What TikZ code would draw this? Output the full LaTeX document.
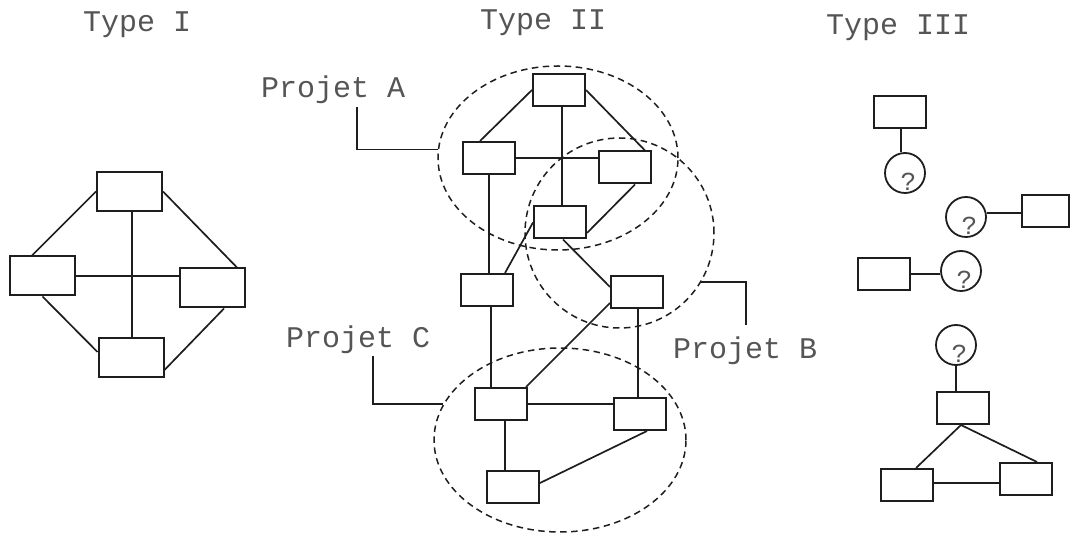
\documentclass[tikz,border=0pt]{standalone}
\usepackage{fontspec}
\setmainfont{Liberation Mono}
\usetikzlibrary{shapes.geometric}
\definecolor{ink}{HTML}{1E1E1E}
\definecolor{txt}{HTML}{555555}
\begin{document}
\begin{tikzpicture}[x=1pt,y=-1pt,
  box/.style={draw=ink, line width=2pt, minimum width=52pt, minimum height=32pt, inner sep=0pt, fill=white},
  bigbox/.style={box, minimum width=65pt, minimum height=39pt},
  link/.style={draw=ink, line width=1.7pt},
  proj/.style={draw=ink, line width=1.5pt, dash pattern=on 6.5pt off 4.5pt, ellipse, inner sep=0pt},
  qc/.style={draw=ink, circle, line width=1.8pt, minimum size=40pt, inner sep=0pt},
  lbl/.style={anchor=base west, inner sep=0pt, text=txt, font=\fontsize{30}{36}\selectfont},
  qm/.style={anchor=base, inner sep=0pt, text=txt, font=\fontsize{26}{30}\selectfont}]
\useasboundingbox (0,0) rectangle (1072,534);

% titles
\node[lbl] (ti1) at (83,32) {Type I};
\node[lbl] (ti2) at (480,30) {Type II};
\node[lbl] (ti3) at (826,35) {Type III};

% ---------- Type I ----------
\node[bigbox] (p1) at (129.5,191.5) {};
\node[bigbox] (p2) at (42.5,276) {};
\node[bigbox] (p3) at (212,288) {};
\node[bigbox] (p4) at (131,357.5) {};
\draw[link] ([xshift=2.5pt]p1.south) -- ([xshift=2.5pt]p1.south |- p4.north);
\draw[link] (p2.east) -- (p2.east -| p3.west);
\draw[link] (p1.west) -- ([xshift=-10.5pt]p2.north);
\draw[link] (p1.east) -- ([xshift=25pt]p3.north);
\draw[link] (p2.south) -- ([yshift=5.5pt]p4.west);
\draw[link] ([xshift=12pt]p3.south) -- ([yshift=-12.5pt]p4.east);

% ---------- Type II ----------
\node[proj, minimum width=240pt, minimum height=184pt] (EA) at (558,158) {};
\node[proj, minimum width=189pt, minimum height=190pt] (EB) at (619.5,233) {};
\node[proj, minimum width=252pt, minimum height=184pt] (EC) at (560,440) {};

\node[box] (a1) at (559,90) {};
\node[box] (a2) at (489,158) {};
\node[box] (a3) at (625,167.5) {};
\node[box] (a4) at (560,222.5) {};
\node[box] (m1) at (487,290) {};
\node[box] (b2) at (637,292) {};
\node[box] (c1) at (501,404) {};
\node[box] (c2) at (639.5,414) {};
\node[box] (c3) at (513,487) {};

\draw[link] (a1.west) -- ([xshift=-9pt]a2.north);
\draw[link] ([xshift=3pt]a1.south) -- ([xshift=3pt]a1.south |- a4.north);
\draw[link] (a1.east) -- ([xshift=20pt]a3.north);
\draw[link] (a2.east) -- (a2.east -| a3.west);
\draw[link] ([xshift=10pt]a3.south) -- ([yshift=-10.5pt]a4.east);
\draw[link] (a2.south) -- (a2.south |- m1.north);
\draw[link] (a4.west) -- ([xshift=18pt]m1.north);
\draw[link] ([xshift=3pt]a4.south) -- ([yshift=5pt]b2.west);
\draw[link] ([yshift=-11pt]b2.west) -- ([xshift=25pt]c1.north);
\draw[link] ([xshift=4pt]m1.south) -- ([xshift=4pt]m1.south |- c1.north);
\draw[link] ([xshift=1pt]b2.south) -- ([xshift=1pt]b2.south |- c2.north);
\draw[link] (c1.east) -- (c1.east -| c2.west);
\draw[link] ([xshift=4pt]c1.south) -- ([xshift=4pt]c1.south |- c3.north);
\draw[link] ([yshift=4pt]c3.east) -- ([xshift=7.5pt]c2.south);

% project labels and leaders
\node[lbl] (la) at (261,98) {Projet A};
\node[lbl] (lb) at (673,359) {Projet B};
\node[lbl] (lc) at (286,348) {Projet C};
\coordinate (la0) at (357,107);
\coordinate (lb0) at (746,325);
\coordinate (lc0) at (373,356);
\draw[link] (la0) |- (EA.176);
\draw[link] (EB.329) -| (lb0);
\draw[link] (lc0) |- (EC.163);

% ---------- Type III ----------
\node[box] (t1) at (900,112) {};
\node[qc] (q1) at (905,173) {};
\node[qm] (q1t) at ([xshift=3.5pt,yshift=-18pt]q1.center) {?};
\draw[link] ([xshift=1pt]t1.south) -- ([xshift=1pt]t1.south |- q1.north);

\node[qc] (q2) at (966,217) {};
\node[qm] (q2t) at ([xshift=3.5pt,yshift=-18pt]q2.center) {?};
\node[box, minimum width=47pt] (t2) at (1045.5,211) {};
\draw[link] (q2.11) -- (q2.11 -| t2.west);

\node[box] (t3) at (883.5,274) {};
\node[qc] (q3) at (961,271) {};
\node[qm] (q3t) at ([xshift=3.5pt,yshift=-18pt]q3.center) {?};
\draw[link] (t3.east) -- (t3.east -| q3.west);

\node[qc] (q4) at (956,345) {};
\node[qm] (q4t) at ([xshift=3.5pt,yshift=-18pt]q4.center) {?};
\node[box] (t4) at (963,408) {};
\node[box] (t5) at (907,485) {};
\node[box] (t6) at (1025.5,479) {};
\draw[link] (q4.south) -- (q4.south |- t4.north);
\draw[link] ([xshift=-2pt]t4.south) -- ([xshift=9pt]t5.north);
\draw[link] ([xshift=-2pt]t4.south) -- ([xshift=11.5pt]t6.north);
\draw[link] ([yshift=2pt]t5.east) -- ([yshift=2pt]t5.east -| t6.west);
\end{tikzpicture}
\end{document}
